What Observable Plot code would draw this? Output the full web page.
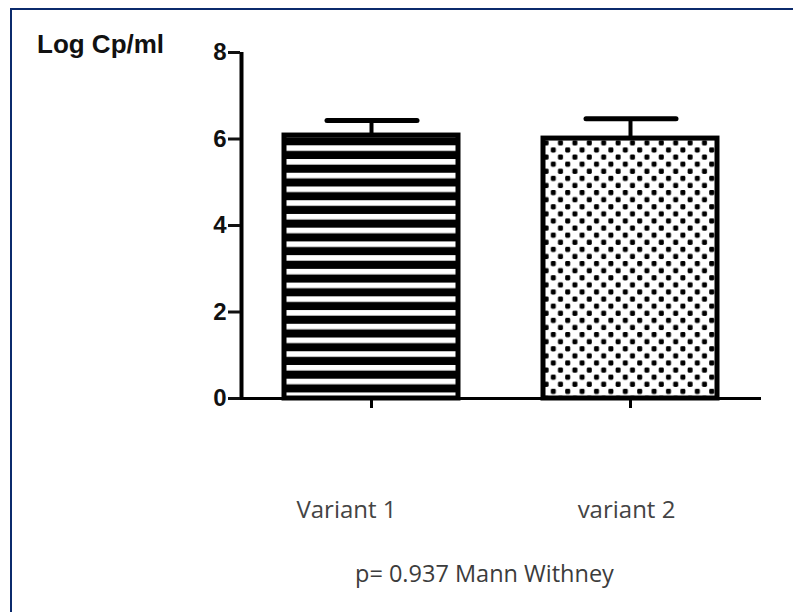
<!DOCTYPE html>
<html>
<head>
<meta charset="utf-8">
<script src="https://cdn.jsdelivr.net/npm/d3@7"></script>
<script src="https://cdn.jsdelivr.net/npm/@observablehq/plot@0.6"></script>
<style>
  html, body { margin: 0; padding: 0; background: #fff; overflow: hidden; }
  body { width: 793px; height: 612px; position: relative; }
  #frame { position: absolute; left: 10px; top: 8px; width: 783px; height: 604px;
           border-left: 2px solid #0b2a6c; border-top: 2px solid #0b2a6c; box-sizing: border-box; }
  #chart { position: absolute; left: 0; top: 0; }
  #ylabel { position: absolute; left: 37px; top: 29px; font: bold 26px "Liberation Sans", Arial, sans-serif; color: #111; white-space: nowrap; }
  #note { position: absolute; left: 355px; top: 557px; font: 23.5px "Open Sans", sans-serif; color: #3c3c3c; white-space: nowrap; }
</style>
</head>
<body>
<div id="frame"></div>
<div id="chart"></div>
<div id="ylabel"></div>
<div id="note"></div>
<script>
// ---- data ----
const categories = ["Variant 1", "variant 2"];
const means = [6.08, 6.01];          // bar heights (Log Cp/ml)
const upperErrors = [6.43, 6.47];    // top of error bar (mean + error)
const yTicks = [0, 2, 4, 6, 8];
const yLabel = "Log Cp/ml";
const noteText = "p= 0.937 Mann Withney";

const data = categories.map((c, i) => ({category: c, mean: means[i], upper: upperErrors[i]}));

document.getElementById("ylabel").textContent = yLabel;
document.getElementById("note").textContent = noteText;

const labelFont = {fontSize: 24, fontFamily: "Open Sans, sans-serif", fill: "#444", frameAnchor: "bottom", dy: 119};

const chart = Plot.plot({
  width: 793,
  height: 612,
  marginLeft: 240,
  marginRight: 32,
  marginTop: 52,
  marginBottom: 214,
  style: {background: "transparent", overflow: "visible"},
  x: {domain: categories, paddingInner: 0.33, paddingOuter: 0.17, axis: null},
  y: {domain: [0, 8], axis: null},
  color: {domain: categories, range: ["url(#stripes)", "url(#dots)"]},
  marks: [
    Plot.barY(data, {x: "category", y: "mean", fill: "category", stroke: "black", strokeWidth: 5}),
    Plot.ruleX(data, {x: "category", y1: "mean", y2: "upper", stroke: "black", strokeWidth: 4}),
    Plot.tickY(data, {x: "category", y: "upper", stroke: "black", strokeWidth: 5, insetLeft: 43, insetRight: 41, strokeLinecap: "round"}),
    Plot.ruleY([0], {stroke: "black", strokeWidth: 3}),
    Plot.ruleX([categories[0]], {y1: 0, y2: 8, dx: -130, stroke: "black", strokeWidth: 4}),
    Plot.axisY({ticks: yTicks, tickSize: 12, tickPadding: 2, strokeWidth: 3, color: "#111",
                fontSize: 24, fontWeight: "bold", fontFamily: "Liberation Sans, Arial, sans-serif", label: null}),
    Plot.axisX({tickSize: 10, strokeWidth: 3, color: "black", tickFormat: () => "", label: null}),
    Plot.text(data, {...labelFont, filter: (d, i) => i === 0, x: "category", text: "category", dx: -25}),
    Plot.text(data, {...labelFont, filter: (d, i) => i === 1, x: "category", text: "category", dx: -4})
  ]
});

// pattern fills for the bars
const defs = d3.select(chart).insert("defs", ":first-child");
const sp = 13.73;
const stripes = defs.append("pattern").attr("id", "stripes").attr("patternUnits", "userSpaceOnUse")
  .attr("x", 0).attr("y", 8).attr("width", 20).attr("height", sp);
stripes.append("rect").attr("width", 20).attr("height", sp).attr("fill", "#000");
stripes.append("rect").attr("y", 0).attr("width", 20).attr("height", 5.6).attr("fill", "#fff");

const dw = 14.4, dh = 14.2, ds = 5;
const dots = defs.append("pattern").attr("id", "dots").attr("patternUnits", "userSpaceOnUse")
  .attr("x", 2.5).attr("y", 4.45).attr("width", dw).attr("height", dh);
dots.append("rect").attr("width", dw).attr("height", dh).attr("fill", "#fff");
dots.append("rect").attr("x", dw / 4 - ds / 2).attr("y", dh / 4 - ds / 2).attr("width", ds).attr("height", ds).attr("rx", 1.4).attr("fill", "#000");
dots.append("rect").attr("x", 3 * dw / 4 - ds / 2).attr("y", 3 * dh / 4 - ds / 2).attr("width", ds).attr("height", ds).attr("rx", 1.4).attr("fill", "#000");

document.getElementById("chart").append(chart);
</script>
</body>
</html>
